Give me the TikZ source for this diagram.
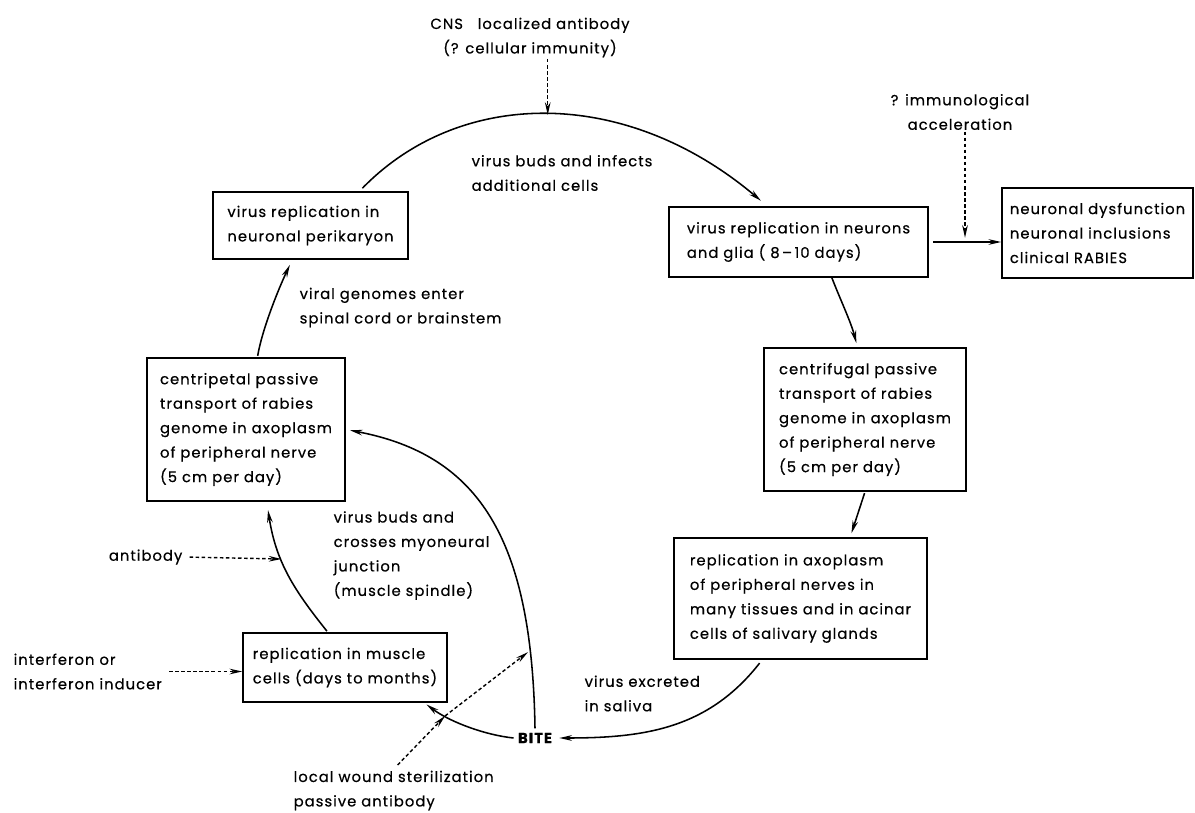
\documentclass[tikz,border=0pt]{standalone}
\usepackage{fontspec}
\setmainfont{Poppins}[LetterSpace=7, FakeBold=0.5]
\usetikzlibrary{arrows.meta}

\begin{document}
\begin{tikzpicture}[x=0.025cm, y=-0.025cm, >={Stealth[length=9pt,width=4pt]},
    every node/.style={font=\fontsize{10.5}{17.4}\selectfont},
    stage/.style={draw, line width=1.1pt, align=left},
    note/.style={align=left, inner sep=1pt},
    flow/.style={->, line width=1.1pt},
    block/.style={->, line width=1pt, dash pattern=on 2.5pt off 1.8pt}]
    \useasboundingbox (0,0) rectangle (1195,813);

    % stages of the cycle
    \node[stage, minimum width=4.875cm, minimum height=1.675cm] (peri) at (310.5,225.5) {virus replication in\\neuronal perikaryon};
    \node[stage, minimum width=6.475cm, minimum height=1.75cm] (glia) at (798.5,242) {virus replication in neurons\\and glia (\ 8\,--\,10 days)};
    \node[stage, minimum width=4.775cm, minimum height=2.25cm] (rabies) at (1097.5,233) {neuronal dysfunction\\neuronal inclusions\\clinical RABIES};
    \node[stage, minimum width=5.05cm, minimum height=3.575cm] (cfug) at (865,419.5) {centrifugal passive\\transport of rabies\\genome in axoplasm\\of peripheral nerve\\(5 cm per day)};
    \node[stage, minimum width=6.325cm, minimum height=3.025cm] (axo) at (800.5,598.5) {replication in axoplasm\\of peripheral nerves in\\many tissues and in acinar\\cells of salivary glands};
    \node[stage, minimum width=4.95cm, minimum height=3.575cm] (cpet) at (246,429.5) {centripetal passive\\transport of rabies\\genome in axoplasm\\of peripheral nerve\\(5 cm per day)};
    \node[stage, minimum width=5.1cm, minimum height=1.725cm] (muscle) at (345,667.5) {replication in muscle\\cells (days to months)};
    \node[inner sep=3pt, font=\fontsize{10.5}{12}\selectfont\bfseries] (bite) at (535,738) {BITE};

    % labels
    \node[note, align=center] (cns) at (530,37.5) {CNS\quad localized antibody\\(? cellular immunity)};
    \node[note, anchor=west] (infects) at (470,173) {virus buds and infects\\additional cells};
    \node[note, align=center] (imm) at (960,112) {? immunological\\acceleration};
    \node[note, anchor=west] (genomes) at (298,307.5) {viral genomes enter\\spinal cord or brainstem};
    \node[note, anchor=west] (myo) at (332,555.5) {virus buds and\\crosses myoneural\\junction\\(muscle spindle)};
    \node[note, anchor=east] (ab) at (184,557) {antibody};
    \node[note, anchor=west] (ifn) at (12,671.5) {interferon or\\interferon inducer};
    \node[note, anchor=west] (saliva) at (583,693.5) {virus excreted\\in saliva};
    \node[note, anchor=west] (wound) at (292,790.5) {local wound sterilization\\passive antibody};

    % the cycle
    \draw[flow, shorten <=3pt, shorten >=6pt] (peri.35) .. controls (460,88) and (625,86) .. (glia.131) coordinate[pos=0.5] (top);
    \draw[flow, shorten <=3pt] (glia.east) -- (glia.east -| rabies.west) coordinate[midway] (acc);
    \draw[flow, shorten >=3pt] (glia.-47) .. controls (840,299) and (851,322) .. (cfug.96);
    \draw[flow, shorten <=1pt, shorten >=3pt] (cfug.south) -- (axo.51);
    \draw[flow, shorten <=3pt, shorten >=2pt] (axo.-122) .. controls (708,729) and (644,738) .. (bite.east);
    \draw[flow, shorten >=2pt] (bite.west) .. controls (485,735) and (450,722) .. (muscle.-24) coordinate[pos=0.75] (bm);
    \draw[flow, shorten >=3pt] (bite.north) .. controls (532,540) and (480,455) .. (cpet.east) coordinate[pos=0.15] (sp);
    \draw[flow, shorten <=1pt, shorten >=6pt] (muscle.116) .. controls (294,590) and (276,562) .. (cpet.-74) coordinate[pos=0.62] (mj);
    \draw[flow, shorten <=1pt, shorten >=4pt] (cpet.81) .. controls (262,330) and (278,290) .. (peri.-118);

    % interventions
    \draw[block] (cns.south -| top) -- (top);
    \draw[block] (imm.south -| acc) -- ([yshift=3pt]acc);
    \draw[block, shorten <=4pt] (ab.east) -- (mj);
    \draw[block, shorten <=4pt] (ifn.east) -- (ifn.east -| muscle.west);
    \draw[block, shorten <=4pt] (wound.north) -- (bm);
    \draw[block, shorten >=2pt] (bm) -- (sp);
\end{tikzpicture}
\end{document}
